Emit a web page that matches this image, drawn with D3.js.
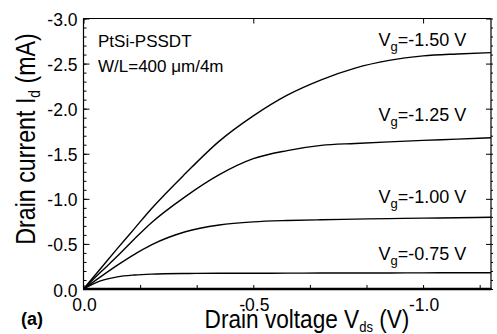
<!DOCTYPE html>
<html>
<head>
<meta charset="utf-8">
<script src="https://cdn.jsdelivr.net/npm/d3@7"></script>
<style>
    body { margin: 0; background: white; }
    text { font-family: "Liberation Sans", Arial, sans-serif; fill: black; }
</style>
</head>
<body>
<div id="chart"></div>
<script>

// drain voltage (V) and drain current (mA)
const vds_values = [0, -0.05, -0.1, -0.15, -0.2, -0.3, -0.4, -0.5, -0.6, -0.7, -0.8, -0.9, -1.0, -1.1, -1.2];
const id_vg_150 = [0, -0.225, -0.45, -0.67, -0.89, -1.28, -1.64, -1.92, -2.15, -2.32, -2.45, -2.535, -2.585, -2.607, -2.622];
const id_vg_125 = [0, -0.185, -0.365, -0.555, -0.735, -1.025, -1.268, -1.445, -1.535, -1.593, -1.614, -1.632, -1.648, -1.662, -1.677];
const id_vg_100 = [0, -0.135, -0.265, -0.385, -0.49, -0.635, -0.71, -0.745, -0.76, -0.768, -0.775, -0.781, -0.786, -0.79, -0.795];
const id_vg_075 = [0, -0.09, -0.135, -0.155, -0.165, -0.172, -0.174, -0.175, -0.176, -0.177, -0.177, -0.178, -0.179, -0.18, -0.181];

const series_labels = ["-1.50 V", "-1.25 V", "-1.00 V", "-0.75 V"];
const label_id = [-2.70, -1.864, -0.949, -0.321];
const label_vds = -1.127;

const x_ticks = [0, -0.5, -1.0];
const x_tick_labels = ["0.0", "-0.5", "-1.0"];
const y_ticks = [0, -0.5, -1.0, -1.5, -2.0, -2.5, -3.0];
const y_tick_labels = ["0.0", "-0.5", "-1.0", "-1.5", "-2.0", "-2.5", "-3.0"];

const all_series = [id_vg_150, id_vg_125, id_vg_100, id_vg_075];

function draw_chart() {
    let chart_width = 497;
    let chart_height = 334;

    let left = 83.5, right = 491, top = 18.5, bottom = 289;

    let svg = d3.select("#chart")
        .append("svg")
        .attr("width", chart_width)
        .attr("height", chart_height);

    let xScale = d3.scaleLinear()
        .domain([0, -1.2])
        .range([left, right]);

    let yScale = d3.scaleLinear()
        .domain([0, -3.0])
        .range([bottom, top]);

    let minor_x = d3.range(0, 8).map(function(i) { return -i * 0.5 / 3; });
    let minor_y = d3.range(0, 31).map(function(i) { return -i * 0.1; });

    // left axis, ticks point inward
    svg.append("g")
        .attr("transform", "translate(" + left + ",0)")
        .call(d3.axisRight(yScale).tickValues(minor_y).tickSize(3).tickFormat(""))
        .call(g => g.select(".domain").remove());
    svg.append("g")
        .attr("transform", "translate(" + left + ",0)")
        .call(d3.axisRight(yScale).tickValues(y_ticks).tickSize(6).tickFormat(""))
        .call(g => g.select(".domain").remove());

    // right axis: majors inward, minors outward
    svg.append("g")
        .attr("transform", "translate(" + right + ",0)")
        .call(d3.axisRight(yScale).tickValues(minor_y).tickSize(2).tickFormat(""))
        .call(g => g.select(".domain").remove());
    svg.append("g")
        .attr("transform", "translate(" + right + ",0)")
        .call(d3.axisLeft(yScale).tickValues(y_ticks).tickSize(5).tickFormat(""))
        .call(g => g.select(".domain").remove());

    // top axis
    svg.append("g")
        .attr("transform", "translate(0," + top + ")")
        .call(d3.axisBottom(xScale).tickValues(x_ticks).tickSize(5).tickFormat(""))
        .call(g => g.select(".domain").remove());

    // bottom axis, ticks inward
    svg.append("g")
        .attr("transform", "translate(0," + bottom + ")")
        .call(d3.axisTop(xScale).tickValues(minor_x).tickSize(4).tickFormat(""))
        .call(g => g.select(".domain").remove());

    svg.selectAll(".tick line")
        .attr("stroke", "black")
        .attr("stroke-width", 1);

    // frame
    svg.append("line")
        .attr("x1", left).attr("x2", left)
        .attr("y1", top).attr("y2", bottom)
        .attr("stroke", "black").attr("stroke-width", 1.2);
    svg.append("line")
        .attr("x1", right).attr("x2", right)
        .attr("y1", top).attr("y2", bottom)
        .attr("stroke", "black").attr("stroke-width", 1.2);
    svg.append("line")
        .attr("x1", left).attr("x2", right)
        .attr("y1", top).attr("y2", top)
        .attr("stroke", "black").attr("stroke-width", 1.2);
    svg.append("line")
        .attr("x1", left - 0.5).attr("x2", right + 0.5)
        .attr("y1", bottom).attr("y2", bottom)
        .attr("stroke", "black").attr("stroke-width", 2.4);

    // tick labels
    svg.selectAll(".y_label")
        .data(y_ticks)
        .enter()
        .append("text")
        .attr("class", "y_label")
        .attr("x", 77.5)
        .attr("y", function(d) { return yScale(d) + 7.5; })
        .attr("text-anchor", "end")
        .attr("font-size", "17.5px")
        .text(function(d, i) { return y_tick_labels[i]; });

    svg.selectAll(".x_label")
        .data(x_ticks)
        .enter()
        .append("text")
        .attr("class", "x_label")
        .attr("x", function(d) { return xScale(d) + 1; })
        .attr("y", 310.5)
        .attr("text-anchor", "middle")
        .attr("font-size", "17.5px")
        .text(function(d, i) { return x_tick_labels[i]; });

    // curves
    let line = d3.line()
        .x(function(d, i) { return xScale(vds_values[i]); })
        .y(function(d) { return yScale(d); })
        .curve(d3.curveMonotoneX);

    svg.selectAll(".curve")
        .data(all_series)
        .enter()
        .append("path")
        .attr("class", "curve")
        .attr("d", function(d) { return line(d); })
        .attr("fill", "none")
        .attr("stroke", "black")
        .attr("stroke-width", 1.4);

    // V_g labels
    let vg = svg.selectAll(".vg_label")
        .data(series_labels)
        .enter()
        .append("text")
        .attr("class", "vg_label")
        .attr("x", xScale(label_vds))
        .attr("y", function(d, i) { return yScale(label_id[i]); })
        .attr("text-anchor", "end")
        .attr("font-size", "18px");
    vg.append("tspan").text("V");
    vg.append("tspan").attr("font-size", "13px").attr("dy", 5).text("g");
    vg.append("tspan").attr("dy", -5).text(function(d) { return "=" + d; });

    // device text
    svg.append("text")
        .attr("x", 98)
        .attr("y", 47.3)
        .attr("font-size", "17px")
        .text("PtSi-PSSDT");
    svg.append("text")
        .attr("x", 98)
        .attr("y", 71.7)
        .attr("font-size", "17px")
        .text("W/L=400 \u03bcm/4m");

    // axis titles
    let x_title = svg.append("text")
        .attr("transform", "translate(307,327.5) scale(0.87,1)")
        .attr("text-anchor", "middle")
        .attr("font-size", "26px");
    x_title.append("tspan").text("Drain voltage V");
    x_title.append("tspan").attr("font-size", "15px").attr("dy", 4).text("ds");
    x_title.append("tspan").attr("dy", -4).text(" (V)");

    let y_title = svg.append("text")
        .attr("transform", "translate(35,139) rotate(-90) scale(0.86,1)")
        .attr("text-anchor", "middle")
        .attr("font-size", "27px");
    y_title.append("tspan").text("Drain current I");
    y_title.append("tspan").attr("font-size", "16px").attr("dy", 5).text("d");
    y_title.append("tspan").attr("dy", -5).text(" (mA)");

    svg.append("text")
        .attr("x", 21)
        .attr("y", 325)
        .attr("font-size", "18px")
        .attr("font-weight", "bold")
        .text("(a)");
}

draw_chart();
</script>
</body>
</html>
